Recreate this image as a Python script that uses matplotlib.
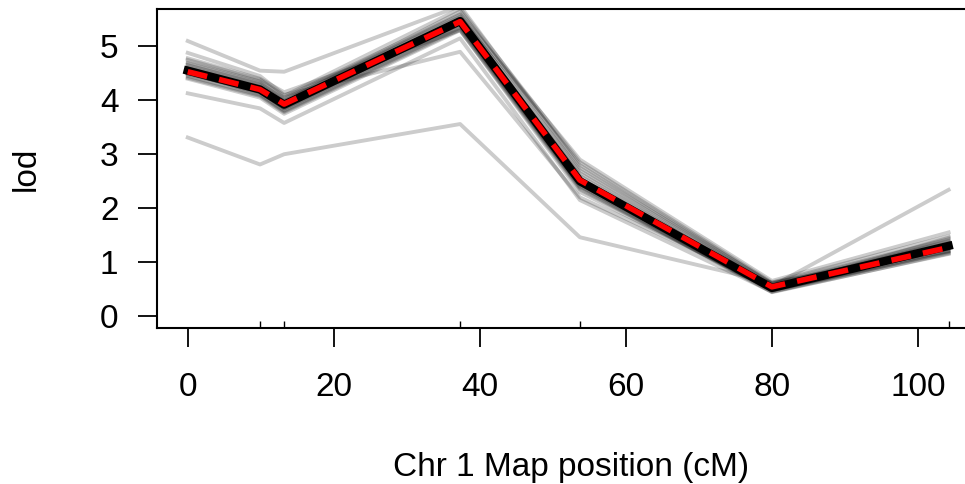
import matplotlib
matplotlib.use("Agg")
import matplotlib.pyplot as plt

plt.rcParams['font.family'] = ['Liberation Sans', 'DejaVu Sans']

# marker positions on chr 1 (cM)
posiciones = [0.0, 9.9, 13.2, 37.3, 53.7, 80.0, 104.2]

# lod curves, one per permutation / imputation
curvas_gris = [
    [3.31, 2.81, 3.00, 3.56, 1.46, 0.62, 1.20],
    [5.10, 4.55, 4.53, 5.75, 2.75, 0.60, 1.30],
    [4.88, 4.45, 4.10, 4.90, 2.20, 0.55, 2.34],
    [4.13, 3.85, 3.58, 5.15, 2.15, 0.45, 1.15],
    [4.78, 4.40, 4.15, 5.30, 2.30, 0.50, 1.45],
    [4.70, 4.35, 4.05, 5.60, 2.90, 0.65, 1.55],
    [4.60, 4.25, 3.95, 5.50, 2.60, 0.55, 1.35],
    [4.50, 4.15, 3.85, 5.40, 2.45, 0.50, 1.25],
    [4.45, 4.10, 3.80, 5.35, 2.40, 0.45, 1.20],
    [4.65, 4.30, 4.00, 5.55, 2.70, 0.58, 1.40],
    [4.40, 4.05, 3.75, 5.30, 2.35, 0.48, 1.18],
    [4.55, 4.20, 3.92, 5.48, 2.55, 0.52, 1.30],
    [4.62, 4.28, 3.98, 5.65, 2.80, 0.60, 1.42],
    [4.48, 4.18, 3.88, 5.42, 2.50, 0.50, 1.28],
    [4.58, 4.22, 3.90, 5.45, 2.48, 0.53, 1.32],
    [4.52, 4.12, 3.82, 5.38, 2.42, 0.47, 1.22],
    [4.68, 4.32, 4.02, 5.58, 2.65, 0.56, 1.38],
    [4.42, 4.08, 3.78, 5.32, 2.38, 0.44, 1.16],
    [4.75, 4.38, 4.08, 5.70, 2.85, 0.62, 1.48],
    [4.50, 4.16, 3.86, 5.44, 2.52, 0.51, 1.26],
]
curva_negra = [4.55, 4.20, 3.92, 5.47, 2.50, 0.52, 1.30]
curva_roja = [4.53, 4.20, 3.93, 5.46, 2.52, 0.54, 1.27]

x_ticks = [0, 20, 40, 60, 80, 100]
y_ticks = [0, 1, 2, 3, 4, 5]

fig = plt.figure(figsize=(9.65, 4.84), dpi=100)
ax = fig.add_axes([0.163, 0.323, 0.845, 0.658])

for c in curvas_gris:
    ax.plot(posiciones, c, color="black", alpha=0.2, lw=2.8)
ax.plot(posiciones, curva_negra, color="black", lw=6)
ax.plot(posiciones, curva_roja, color="red", lw=4, dashes=(3.6, 2.2))

ax.set_xlim(-4.17, 107.5)
ax.set_ylim(-0.217, 5.69)

for s in ax.spines.values():
    s.set_linewidth(1.5)
ax.spines["right"].set_visible(False)

ax.set_xticks(x_ticks)
ax.set_yticks(y_ticks)
ax.tick_params(axis="both", direction="out", length=14, width=1.3, labelsize=24)
ax.tick_params(axis="x", pad=18)
ax.tick_params(axis="y", pad=14)

# marker ticks inside the bottom axis
ax.set_xticks(posiciones, minor=True)
ax.tick_params(axis="x", which="minor", direction="in", length=5, width=1.0)

ax.set_xlabel("Chr 1 Map position (cM)", fontsize=24, labelpad=35)
ax.xaxis.label.set_x(0.508)
ax.set_ylabel("lod", fontsize=24, labelpad=42)

fig.savefig("out.png", dpi=100)
